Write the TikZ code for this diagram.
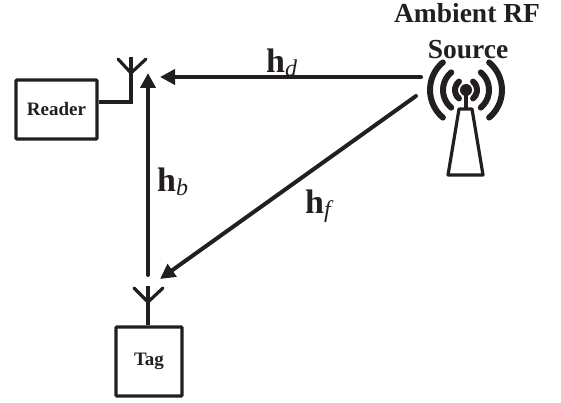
\documentclass[tikz,border=0pt]{standalone}
\usepackage{fontspec}
\setmainfont{Liberation Serif}
\usetikzlibrary{arrows.meta}
\definecolor{ink}{HTML}{231F20}
\tikzset{
  x=1pt,y=-1pt,
  box/.style={draw=ink,line width=3.2pt,rounded corners=0.8pt,minimum width=#1,inner sep=0pt,font=\bfseries\fontsize{19}{21}\selectfont,text=ink},
  wire/.style={draw=ink,line width=3.2pt},
  link/.style={draw=ink,line width=4pt,line cap=round,-{Triangle[length=15pt,width=15pt]}},
  title/.style={font=\bfseries\fontsize{27.5}{30}\selectfont,text=ink,inner sep=0pt,anchor=base},
  chan/.style={text=ink,inner sep=0pt,anchor=base west},
  wave/.style={draw=ink,line width=6pt,line cap=round}
}
\newcommand{\chanlabel}[1]{{\fontsize{34}{36}\selectfont\bfseries h}\raisebox{-4pt}{\fontsize{24}{28}\selectfont\itshape #1}}
\begin{document}
\begin{tikzpicture}
\useasboundingbox (0,0) rectangle (561,403);
\node[box=81pt,minimum height=59pt] (reader) at (56.5,109.5) {Reader};
\node[box=66pt,minimum height=69pt] (tag) at (149,361.5) {Tag};
% reader antenna
\coordinate (ra) at (131,73);
\coordinate (rt) at (131,57);
\coordinate (rl) at (118,59);
\coordinate (rr) at (146,59);
\coordinate (rc) at (131,102);
\draw[wire] (reader.east |- rc) -- (rc) -- (rt);
\draw[wire,line cap=round] (rl) -- (ra) -- (rr);
% tag antenna
\coordinate (ta) at (148,302);
\coordinate (tt) at (148,286);
\coordinate (tl) at (134,288);
\coordinate (tr) at (163,288);
\draw[wire] (tag.north -| tt) -- (tt);
\draw[wire,line cap=round] (tl) -- (ta) -- (tr);
% source
\coordinate (src) at (466,90);
\fill[ink] (src) circle (6);
\foreach \r in {11,23,36}{
  \draw[wave] (src) ++(-50:\r) arc[start angle=-50,end angle=50,radius=\r];
  \draw[wave] (src) ++(130:\r) arc[start angle=130,end angle=230,radius=\r];
}
\coordinate (mb) at (466,109);
\draw[wire] (src) -- (mb);
\draw[wire,line join=round] (459,109) -- (472,109) -- (483,175) -- (448,175) -- cycle;
% links
\coordinate (sl) at (421,77);
\coordinate (rx) at (160,77);
\coordinate (sd) at (416,96);
\coordinate (tx) at (160,279);
\coordinate (tu) at (148,275);
\coordinate (ru) at (148,73);
\draw[link] (sl) -- (rx);
\draw[link] (sd) -- (tx);
\draw[link] (tu) -- (ru);
% labels
\node[title] (t1) at (467,23) {Ambient RF};
\node[title] (t2) at (468,59) {Source};
\node[chan] (hd) at (266,73) {\chanlabel{d}};
\node[chan] (hb) at (157,192) {\chanlabel{b}};
\node[chan] (hf) at (305,213) {\chanlabel{f}};
\end{tikzpicture}
\end{document}
